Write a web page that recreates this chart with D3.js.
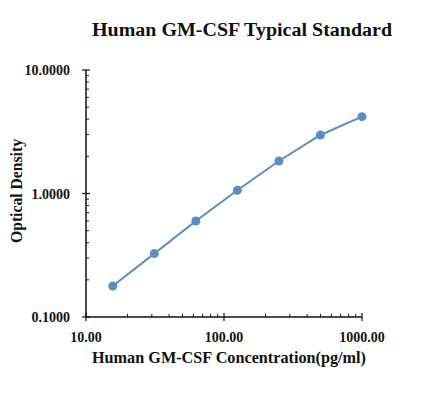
<!DOCTYPE html>
<html>
<head>
<meta charset="utf-8">
<script src="https://cdn.jsdelivr.net/npm/d3@7"></script>
<style>
  body { margin: 0; background: #fff; }
  text { font-family: "Liberation Serif", "Times New Roman", serif; font-weight: bold; fill: #111; }
</style>
</head>
<body>
<script>
var width = 427, height = 397;
var margin = {top: 70, right: 65, bottom: 80, left: 86}; // plot box 86..362 x 70..317

// standard curve values
var concentrations = [15.625, 31.25, 62.5, 125, 250, 500, 1000];
var opticalDensity = [0.178, 0.326, 0.599, 1.062, 1.833, 2.977, 4.19];
var xTickValues = [10, 100, 1000];
var yTickValues = [0.1, 1, 10];

var svg = d3.select("body").append("svg")
    .attr("width", width)
    .attr("height", height);

var x = d3.scaleLog().domain([10, 1000]).range([margin.left, width - margin.right]);
var y = d3.scaleLog().domain([0.1, 10]).range([height - margin.bottom, margin.top]);

// minor ticks (inside)
var xMinor = [], yMinor = [];
[10, 100].forEach(function(d){ for (var k = 2; k <= 9; k++) xMinor.push(d*k); });
[0.1, 1].forEach(function(d){ for (var k = 2; k <= 9; k++) yMinor.push(d*k); });

var axisColor = "#111";

svg.selectAll("xminor").data(xMinor).enter().append("line")
  .attr("x1", function(d){ return x(d); })
  .attr("x2", function(d){ return x(d); })
  .attr("y1", y(0.1))
  .attr("y2", y(0.1) - 3)
  .attr("stroke", axisColor).attr("stroke-width", 1);

svg.selectAll("yminor").data(yMinor).enter().append("line")
  .attr("x1", x(10))
  .attr("x2", x(10) + 3)
  .attr("y1", function(d){ return y(d); })
  .attr("y2", function(d){ return y(d); })
  .attr("stroke", axisColor).attr("stroke-width", 1);

// major ticks crossing the axis
svg.selectAll("xmajor").data(xTickValues).enter().append("line")
  .attr("x1", function(d){ return x(d); })
  .attr("x2", function(d){ return x(d); })
  .attr("y1", y(0.1) - 4)
  .attr("y2", y(0.1) + 4)
  .attr("stroke", axisColor).attr("stroke-width", 1.2);

svg.selectAll("ymajor").data(yTickValues).enter().append("line")
  .attr("x1", x(10) - 4)
  .attr("x2", x(10) + 4)
  .attr("y1", function(d){ return y(d); })
  .attr("y2", function(d){ return y(d); })
  .attr("stroke", axisColor).attr("stroke-width", 1.2);

// axis lines
svg.append("line")
  .attr("x1", x(10)).attr("x2", x(1000))
  .attr("y1", y(0.1)).attr("y2", y(0.1))
  .attr("stroke", axisColor).attr("stroke-width", 1.5);
svg.append("line")
  .attr("x1", x(10)).attr("x2", x(10))
  .attr("y1", y(0.1)).attr("y2", y(10))
  .attr("stroke", axisColor).attr("stroke-width", 1.5);

// tick labels
svg.selectAll("xlabels").data(xTickValues).enter().append("text")
  .attr("x", function(d){ return x(d); })
  .attr("y", y(0.1) + 25)
  .attr("text-anchor", "middle")
  .attr("font-size", 14)
  .text(function(d){ return d3.format(".2f")(d); });

svg.selectAll("ylabels").data(yTickValues).enter().append("text")
  .attr("x", x(10) - 16)
  .attr("y", function(d){ return y(d) + 5; })
  .attr("text-anchor", "end")
  .attr("font-size", 14)
  .text(function(d){ return d3.format(".4f")(d); });

// curve
var line = d3.line()
  .x(function(d){ return x(d[0]); })
  .y(function(d){ return y(d[1]); });

var pts = d3.zip(concentrations, opticalDensity);

svg.append("path")
  .datum(pts)
  .attr("fill", "none")
  .attr("stroke", "#5b8dc4")
  .attr("stroke-width", 2)
  .attr("d", line);

svg.selectAll("dots").data(pts).enter().append("circle")
  .attr("cx", function(d){ return x(d[0]); })
  .attr("cy", function(d){ return y(d[1]); })
  .attr("r", 4.5)
  .attr("fill", "#5b8dc4");

// titles
svg.append("text")
  .attr("x", 242)
  .attr("y", 36)
  .attr("text-anchor", "middle")
  .attr("font-size", 18)
  .attr("textLength", 300)
  .attr("lengthAdjust", "spacingAndGlyphs")
  .text("Human GM-CSF Typical Standard");

svg.append("text")
  .attr("x", 229)
  .attr("y", 363)
  .attr("text-anchor", "middle")
  .attr("font-size", 16)
  .attr("textLength", 274)
  .attr("lengthAdjust", "spacingAndGlyphs")
  .text("Human GM-CSF Concentration(pg/ml)");

svg.append("text")
  .attr("transform", "translate(22,191) rotate(-90)")
  .attr("text-anchor", "middle")
  .attr("font-size", 16)
  .attr("textLength", 104)
  .attr("lengthAdjust", "spacingAndGlyphs")
  .text("Optical Density");
</script>
</body>
</html>
